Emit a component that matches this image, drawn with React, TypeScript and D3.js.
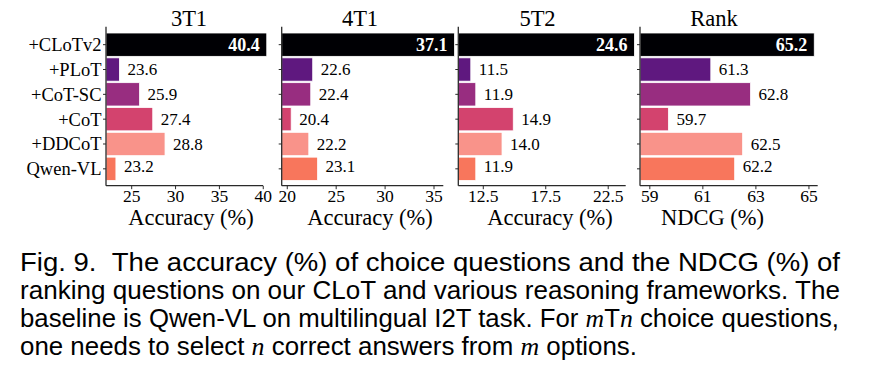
import React from "react";
import * as d3 from "d3";

const methods = ["+CLoTv2", "+PLoT", "+CoT-SC", "+CoT", "+DDCoT", "Qwen-VL"];
const barColors = ["#000004", "#5f187f", "#982d80", "#d3436e", "#f9938a", "#f8765c"];
const acc3T1 = [40.4, 23.6, 25.9, 27.4, 28.8, 23.2];
const acc4T1 = [37.1, 22.6, 22.4, 20.4, 22.2, 23.1];
const acc5T2 = [24.6, 11.5, 11.9, 14.9, 14.0, 11.9];
const ndcgRank = [65.2, 61.3, 62.8, 59.7, 62.5, 62.2];
const panelTitles = ["3T1", "4T1", "5T2", "Rank"];
const axisTitles = ["Accuracy (%)", "Accuracy (%)", "Accuracy (%)", "NDCG (%)"];
const ticks3T1 = [25, 30, 35, 40];
const ticks4T1 = [20, 25, 30, 35];
const ticks5T2 = [12.5, 17.5, 22.5];
const ticksRank = [59, 61, 63, 65];
const captionLines = [
  "Fig. 9.\u00a0\u00a0The accuracy (%) of choice questions and the NDCG (%) of",
  "ranking questions on our CLoT and various reasoning frameworks. The",
];

const seriesList = [acc3T1, acc4T1, acc5T2, ndcgRank];
const tickList = [ticks3T1, ticks4T1, ticks5T2, ticksRank];

// layout (positions only)
const layout = [
  { left: 106, right: 263, domain: [22.07, 39.97], titleX: 189, labelX: 191 },
  { left: 281.7, right: 443.3, domain: [19.43, 35.95], titleX: 360, labelX: 370 },
  { left: 458.3, right: 625.7, domain: [10.5, 23.9], titleX: 537.5, labelX: 550 },
  { left: 640, right: 817.7, domain: [58.63, 65.33], titleX: 714, labelX: 712.5 },
];
const TOP = 26.7;
const BOTTOM = 185.7;
const SERIF = "'Liberation Serif', 'Times New Roman', serif";
const SANS = "'Liberation Sans', Arial, Helvetica, sans-serif";
const AXIS = "#2a2a2a";

const y = d3.scaleBand<string>().domain(methods).range([33, 180.5]).paddingInner(0.06).paddingOuter(0);

function Panel({ idx }: { idx: number }) {
  const L = layout[idx];
  const vals = seriesList[idx];
  const ticks = tickList[idx];
  const x = d3.scaleLinear().domain(L.domain).range([L.left, L.right]);
  const fmt = (t: number) => (Number.isInteger(t) ? String(t) : t.toFixed(1));
  return (
    <g>
      <text x={L.titleX} y={25.5} textAnchor="middle" fontFamily={SERIF} fontSize={22.5} fill="#000">
        {panelTitles[idx]}
      </text>
      {methods.map((m, i) => {
        const v = vals[i];
        const y0 = y(m)!;
        const bw = y.bandwidth();
        const x0 = x(L.domain[0]);
        const x1 = x(v);
        return (
          <g key={m}>
            <rect x={x0} y={y0} width={x1 - x0} height={bw} fill={barColors[i]} stroke="#ffffff" strokeWidth={0.8} />
            {i === 0 ? (
              <text x={x1 - 7} y={y0 + bw / 2} dy="0.35em" textAnchor="end" fontFamily={SERIF} fontWeight="bold" fontSize={18} fill="#fff">
                {v.toFixed(1)}
              </text>
            ) : (
              <text x={x1 + 8} y={y0 + bw / 2 + (i === 5 ? -3 : 0)} dy="0.35em" textAnchor="start" fontFamily={SERIF} fontSize={17} fill="#000">
                {v.toFixed(1)}
              </text>
            )}
          </g>
        );
      })}
      <line x1={L.left} x2={L.left} y1={TOP} y2={BOTTOM} stroke={AXIS} strokeWidth={1.3} />
      <line x1={L.left} x2={L.right} y1={BOTTOM} y2={BOTTOM} stroke={AXIS} strokeWidth={1.3} />
      {methods.map((m) => (
        <line key={"yt" + m} x1={L.left - 3} x2={L.left} y1={y(m)! + y.bandwidth() / 2} y2={y(m)! + y.bandwidth() / 2} stroke={AXIS} strokeWidth={1} />
      ))}
      {idx === 0 &&
        methods.map((m) => (
          <text key={"yl" + m} x={101.5} y={y(m)! + y.bandwidth() / 2} dy="0.35em" textAnchor="end" fontFamily={SERIF} fontSize={18.5} fill="#000">
            {m}
          </text>
        ))}
      {ticks.map((t) => (
        <g key={"xt" + t}>
          <line x1={x(t)} x2={x(t)} y1={BOTTOM} y2={BOTTOM + 3.5} stroke={AXIS} strokeWidth={1} />
          <text x={x(t)} y={201.5} textAnchor="middle" fontFamily={SERIF} fontSize={17.5} fill="#000">
            {fmt(t)}
          </text>
        </g>
      ))}
      <text x={L.labelX} y={225} textAnchor="middle" fontFamily={SERIF} fontSize={22.5} fill="#000">
        {axisTitles[idx]}
      </text>
    </g>
  );
}

export default function App() {
  const mathStyle = { fontFamily: SERIF, fontStyle: "italic" as const };
  return (
    <svg width={883} height={383} style={{ position: "absolute", left: 0, top: 0, background: "#fff" }}>
      <rect x={0} y={0} width={883} height={383} fill="#fff" />
      {[0, 1, 2, 3].map((i) => (
        <Panel key={i} idx={i} />
      ))}
      <g fontFamily={SANS} fontSize={25.5} fill="#000">
        <text x={20} y={271} textLength={820} lengthAdjust="spacingAndGlyphs">
          {captionLines[0]}
        </text>
        <text x={20} y={299} textLength={820} lengthAdjust="spacingAndGlyphs">
          {captionLines[1]}
        </text>
        <text x={20} y={327} textLength={819} lengthAdjust="spacingAndGlyphs">
          baseline is Qwen-VL on multilingual I2T task. For <tspan style={mathStyle}>m</tspan>T<tspan style={mathStyle}>n</tspan> choice questions,
        </text>
        <text x={20} y={355} textLength={617} lengthAdjust="spacingAndGlyphs">
          one needs to select <tspan style={mathStyle}>n</tspan> correct answers from <tspan style={mathStyle}>m</tspan> options.
        </text>
      </g>
    </svg>
  );
}
